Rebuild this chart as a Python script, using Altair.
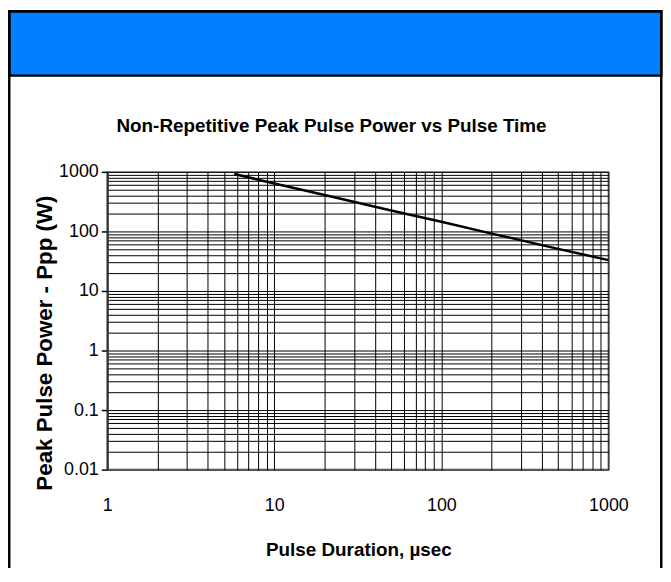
import altair as alt
import pandas as pd

# Data (log-log power curve)
pulse_us = [5.76, 10, 20, 50, 100, 200, 500, 1000]
power_w = [920, 640, 410, 225, 145, 92, 51, 33]

x_grid = [1, 2, 3, 4, 5, 6, 7, 8, 9,
          10, 20, 30, 40, 50, 60, 70, 80, 90,
          100, 200, 300, 400, 500, 600, 700, 800, 900, 1000]
y_grid = [0.01, 0.02, 0.03, 0.04, 0.05, 0.06, 0.07, 0.08, 0.09,
          0.1, 0.2, 0.3, 0.4, 0.5, 0.6, 0.7, 0.8, 0.9,
          1, 2, 3, 4, 5, 6, 7, 8, 9,
          10, 20, 30, 40, 50, 60, 70, 80, 90,
          100, 200, 300, 400, 500, 600, 700, 800, 900, 1000]

chart_title = "Non-Repetitive Peak Pulse Power vs Pulse Time"
x_title = "Pulse Duration, µsec"
y_title = "Peak Pulse Power - Ppp (W)"

df = pd.DataFrame({"t": pulse_us, "p": power_w})

FONT = "Liberation Sans"
W, H = 505, 300
PAD = {"left": 100, "top": 163, "right": 55, "bottom": 97}

decade = "abs(log(datum.value)/LN10 - round(log(datum.value)/LN10)) < 1e-6"

x_axis = alt.Axis(
    values=x_grid, labelExpr=f"({decade}) ? format(datum.value, '') : ''",
    labelOverlap=False, labelFlush=False, ticks=False, domain=False,
    grid=True, gridColor="black", gridWidth=1, gridOpacity=1,
    labelFont=FONT, labelFontSize=18, labelColor="black",
    labelBaseline="alphabetic", labelPadding=41,
    title=x_title, titleFont=FONT, titleFontSize=19,
    titleFontWeight="bold", titleColor="black",
    titleX=253, titleY=87, titleBaseline="alphabetic", titleAlign="center",
)
y_axis = alt.Axis(
    values=y_grid, labelExpr=f"({decade}) ? format(datum.value, '') : ''",
    labelOverlap=False, labelFlush=False,
    ticks=True, tickSize=6, tickColor="black", tickWidth=1.5,
    tickOpacity={"condition": {"test": decade, "value": 1}, "value": 0},
    domain=True, domainColor="#333333", domainWidth=2,
    grid=True, gridColor="black", gridWidth=1, gridOpacity=1,
    labelFont=FONT, labelFontSize=18, labelColor="black", labelPadding=3,
    title=y_title, titleFont=FONT, titleFontSize=22.5,
    titleFontWeight="bold", titleColor="black", titleAngle=270,
    titleX=-56, titleY=172, titleBaseline="alphabetic", titleAlign="center",
)

one = alt.Data(values=[{"k": 1}])

frame = alt.Chart(one).mark_rect(fill="white", fillOpacity=0, stroke="black", strokeWidth=2.5).encode(
    x=alt.value(-98.75), x2=alt.value(W + PAD["right"] - 1.75),
    y=alt.value(-161.75), y2=alt.value(H + PAD["bottom"] + 10),
)
header = alt.Chart(one).mark_rect(fill="#0080FF", stroke="black", strokeWidth=2.5).encode(
    x=alt.value(-98.75), x2=alt.value(W + PAD["right"] - 1.75),
    y=alt.value(-161.75), y2=alt.value(-97),
)
title_text = alt.Chart(one).mark_text(
    font=FONT, fontSize=19, fontWeight="bold", color="black",
    align="center", baseline="alphabetic",
).encode(x=alt.value(226), y=alt.value(-40), text=alt.value(chart_title))

line = alt.Chart(df).mark_line(color="black", strokeWidth=2.5, clip=True).encode(
    x=alt.X("t:Q", scale=alt.Scale(type="log", domain=[1, 1000], nice=False), axis=x_axis),
    y=alt.Y("p:Q", scale=alt.Scale(type="log", domain=[0.01, 1000], nice=False), axis=y_axis),
)

chart = alt.layer(line, header, frame, title_text).properties(
    width=W, height=H,
    padding=PAD,
    autosize=alt.AutoSizeParams(type="none"),
    background="white",
).configure_view(stroke="#999999", strokeWidth=2)

chart.save("out.html", embed_options={"renderer": "svg", "actions": False})
